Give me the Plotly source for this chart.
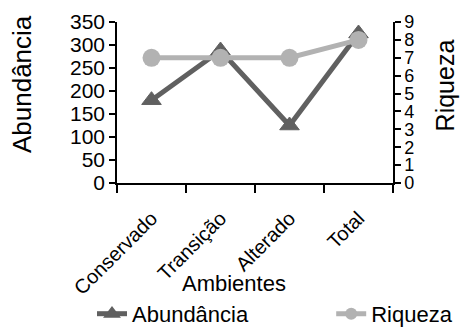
import plotly.graph_objects as go

# Categories and series
ambientes = ["Conservado", "Transição", "Alterado", "Total"]
abundancia = [180, 288, 125, 325]
riqueza = [7, 7, 7, 8]

abund_ticks = [0, 50, 100, 150, 200, 250, 300, 350]
riq_ticks = [0, 1, 2, 3, 4, 5, 6, 7, 8, 9]

FONT = "Liberation Sans, Arial, sans-serif"
DARK = "rgb(96,96,96)"
LIGHT = "rgb(178,178,178)"

fig = go.Figure()

fig.add_trace(go.Scatter(
    x=ambientes, y=abundancia, name="Abundância", yaxis="y",
    mode="lines+markers", legend="legend",
    line=dict(color=DARK, width=5),
    marker=dict(symbol="triangle-up", size=17, color=DARK,
                line=dict(color=DARK, width=1)),
))

fig.add_trace(go.Scatter(
    x=ambientes, y=riqueza, name="Riqueza", yaxis="y2",
    mode="lines+markers", legend="legend2",
    line=dict(color=LIGHT, width=5),
    marker=dict(symbol="circle", size=18, color=LIGHT),
))

legend_style = dict(
    orientation="h", xref="container", yref="container",
    xanchor="left", yanchor="middle", y=0.043,
    font=dict(size=22), bgcolor="rgba(0,0,0,0)", itemsizing="constant",
)

axis_common = dict(
    showline=True, linecolor="black", linewidth=1.5,
    ticks="outside", tickwidth=1.5, tickcolor="black",
    showgrid=False, zeroline=False, automargin=False,
)

fig.update_layout(
    width=460, height=328,
    margin=dict(l=117, r=67, t=22, b=145),
    paper_bgcolor="white", plot_bgcolor="white",
    font=dict(family=FONT, color="black", size=20),
    showlegend=True,
    legend=dict(x=0.2, **legend_style),
    legend2=dict(x=0.72, **legend_style),
    xaxis=dict(
        type="category", range=[-0.5, 3.5],
        tickson="boundaries", ticklen=8, tickangle=-45,
        tickfont=dict(size=20), ticklabelstandoff=14,
        **axis_common,
    ),
    yaxis=dict(
        range=[0, 350], tickvals=abund_ticks, ticklen=6,
        tickfont=dict(size=21), **axis_common,
    ),
    yaxis2=dict(
        range=[0, 9], tickvals=riq_ticks, overlaying="y", side="right",
        ticklen=6, tickfont=dict(size=18), **axis_common,
    ),
    annotations=[
        dict(text="Abundância", x=-0.344, y=0.615, xref="paper", yref="paper",
             textangle=-90, showarrow=False, font=dict(size=26),
             xanchor="center", yanchor="middle"),
        dict(text="Riqueza", x=1.19, y=0.609, xref="paper", yref="paper",
             textangle=-90, showarrow=False, font=dict(size=25),
             xanchor="center", yanchor="middle"),
        dict(text="Ambientes", x=0.424, y=-0.627, xref="paper", yref="paper",
             showarrow=False, font=dict(size=22),
             xanchor="center", yanchor="middle"),
    ],
)

fig.write_html("out.html")
